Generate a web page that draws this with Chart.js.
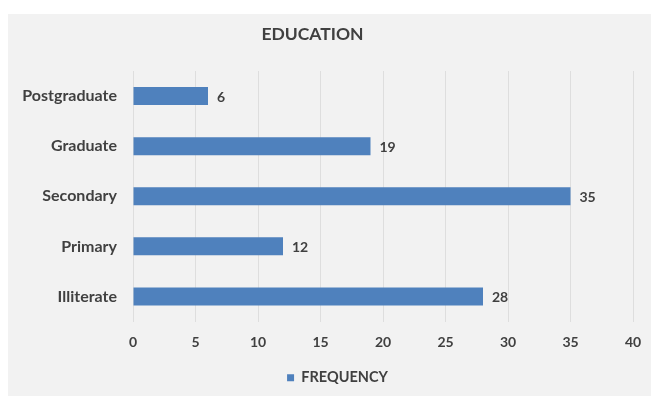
<!DOCTYPE html>
<html lang="en">
<head>
    <meta charset="UTF-8">
    <title>Education</title>
    <script src="https://cdn.jsdelivr.net/npm/chart.js"></script>
    <style>
        body { margin: 0; background: #fff; }
        #wrap { position: absolute; left: 8px; top: 14px; width: 643px; height: 382px; background: #f2f2f2; }
    </style>
</head>
<body>
    <div id="wrap"><canvas id="eduChart" width="643" height="382"></canvas></div>

    <script>
        // Chart data
        const categories = ['Postgraduate', 'Graduate', 'Secondary', 'Primary', 'Illiterate'];
        const frequency = [6, 19, 35, 12, 28];
        const xTicks = [0, 5, 10, 15, 20, 25, 30, 35, 40];

        const textColor = '#404040';
        const font = 'Lato';

        // Draw value labels next to each bar
        const barLabels = {
            id: 'barLabels',
            afterDatasetsDraw(chart) {
                const ctx = chart.ctx;
                const meta = chart.getDatasetMeta(0);
                ctx.save();
                ctx.fillStyle = textColor;
                ctx.font = 'bold 14px ' + font;
                ctx.textBaseline = 'middle';
                meta.data.forEach((bar, i) => {
                    ctx.fillText(frequency[i], bar.x + 9, bar.y + 1);
                });
                ctx.restore();
            }
        };

        // Excel places title and legend a bit off the canvas middle
        const shiftBoxes = {
            id: 'shiftBoxes',
            afterLayout(chart) {
                const moves = [[chart.titleBlock, -17], [chart.legend, 8]];
                moves.forEach(([box, dx]) => {
                    if (box) { box.left += dx; box.right += dx; }
                });
            }
        };

        const ctx = document.getElementById('eduChart').getContext('2d');
        new Chart(ctx, {
            type: 'bar',
            data: {
                labels: categories,
                datasets: [{
                    label: 'FREQUENCY',
                    data: frequency,
                    backgroundColor: '#4F81BD',
                    barPercentage: 0.72,
                    categoryPercentage: 0.5
                }]
            },
            options: {
                indexAxis: 'y',
                responsive: false,
                animation: false,
                layout: { padding: { left: 0, right: 0, top: 4, bottom: 1 } },
                plugins: {
                    title: {
                        display: true,
                        text: 'EDUCATION',
                        color: textColor,
                        font: { family: font, size: 17.5, weight: 'bold' },
                        padding: { top: 6, bottom: 26 }
                    },
                    legend: {
                        position: 'bottom',
                        labels: {
                            color: textColor,
                            font: { family: font, size: 14.5, weight: 'bold' },
                            boxWidth: 7,
                            boxHeight: 7,
                            padding: 7
                        }
                    },
                    tooltip: { enabled: false }
                },
                scales: {
                    x: {
                        min: 0,
                        max: 40,
                        afterBuildTicks: axis => { axis.ticks = xTicks.map(v => ({ value: v })); },
                        afterFit: axis => { axis.paddingRight = 18; },
                        grid: { color: '#dedede', drawTicks: false },
                        border: { display: false },
                        ticks: {
                            color: textColor,
                            padding: 14,
                            font: { family: font, size: 14, weight: 'bold', lineHeight: 1 }
                        }
                    },
                    y: {
                        grid: { display: false },
                        border: { color: '#dedede' },
                        afterFit: axis => { axis.width = 125; },
                        ticks: {
                            color: textColor,
                            padding: 8,
                            font: { family: font, size: 16, weight: 'bold' }
                        }
                    }
                }
            },
            plugins: [barLabels, shiftBoxes]
        });
    </script>
</body>
</html>
